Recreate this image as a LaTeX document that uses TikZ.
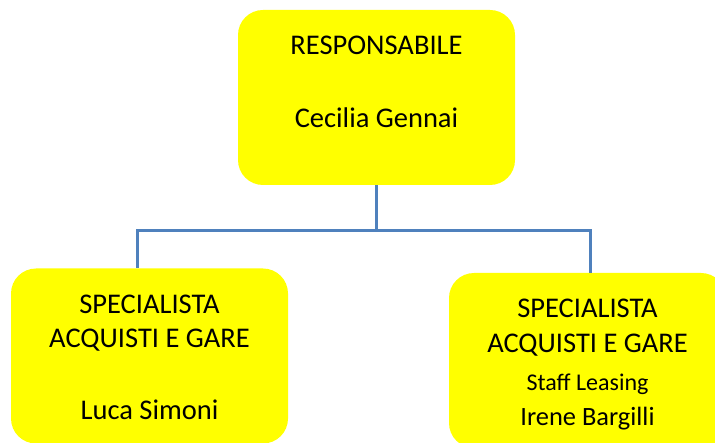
\documentclass[tikz,border=0pt]{standalone}
\usepackage{fontspec}
\setmainfont{Carlito}
\definecolor{boxyellow}{HTML}{FFFF00}
\definecolor{connblue}{HTML}{4F81BD}
\begin{document}
\begin{tikzpicture}[x=1pt,y=-1pt,
  box/.style={rectangle, rounded corners=25pt, fill=boxyellow, draw=none,
    minimum width=277pt, minimum height=175pt, inner sep=0pt, outer sep=0pt},
  txt/.style={anchor=base, inner sep=0pt, font=\fontsize{28.5}{34}\selectfont},
  smalltxt/.style={anchor=base, inner sep=0pt, font=\fontsize{24}{29}\selectfont},
  midtxt/.style={anchor=base, inner sep=0pt, font=\fontsize{26.4}{31}\selectfont},
  conn/.style={draw=connblue, line width=3pt}]
\path[use as bounding box, clip] (0,0) rectangle (715,443);
\fill[white] (0,0) rectangle (715,443);
% boxes
\node[box] (top) at (376.5,97.5) {};
\node[box] (left) at (149.5,356) {};
\node[box] (right) at (587.5,360.5) {};
% texts
\node[txt] (t1) at (376.5,55) {RESPONSABILE};
\node[txt] (t2) at (376.5,127.7) {Cecilia Gennai};
\node[txt] (l1) at (149.5,314) {SPECIALISTA};
\node[txt] (l2) at (149.5,347.3) {ACQUISTI E GARE};
\node[txt] (l3) at (149.5,420) {Luca Simoni};
\node[txt] (r1) at (587.5,317.3) {SPECIALISTA};
\node[txt] (r2) at (587.5,352.3) {ACQUISTI E GARE};
\node[smalltxt] (r3) at (587.5,391) {Staff Leasing};
\node[midtxt] (r4) at (587.5,425.7) {Irene Bargilli};
% connectors
\coordinate (hl) at (137,230.7);
\coordinate (hr) at (590,230.7);
\draw[conn] (top.south) -- (top.south |- hl);
\draw[conn, line cap=rect] (hl) -- (hr);
\draw[conn] (hl) -- (hl |- left.north);
\draw[conn] (hr) -- (hr |- right.north);
\end{tikzpicture}
\end{document}
